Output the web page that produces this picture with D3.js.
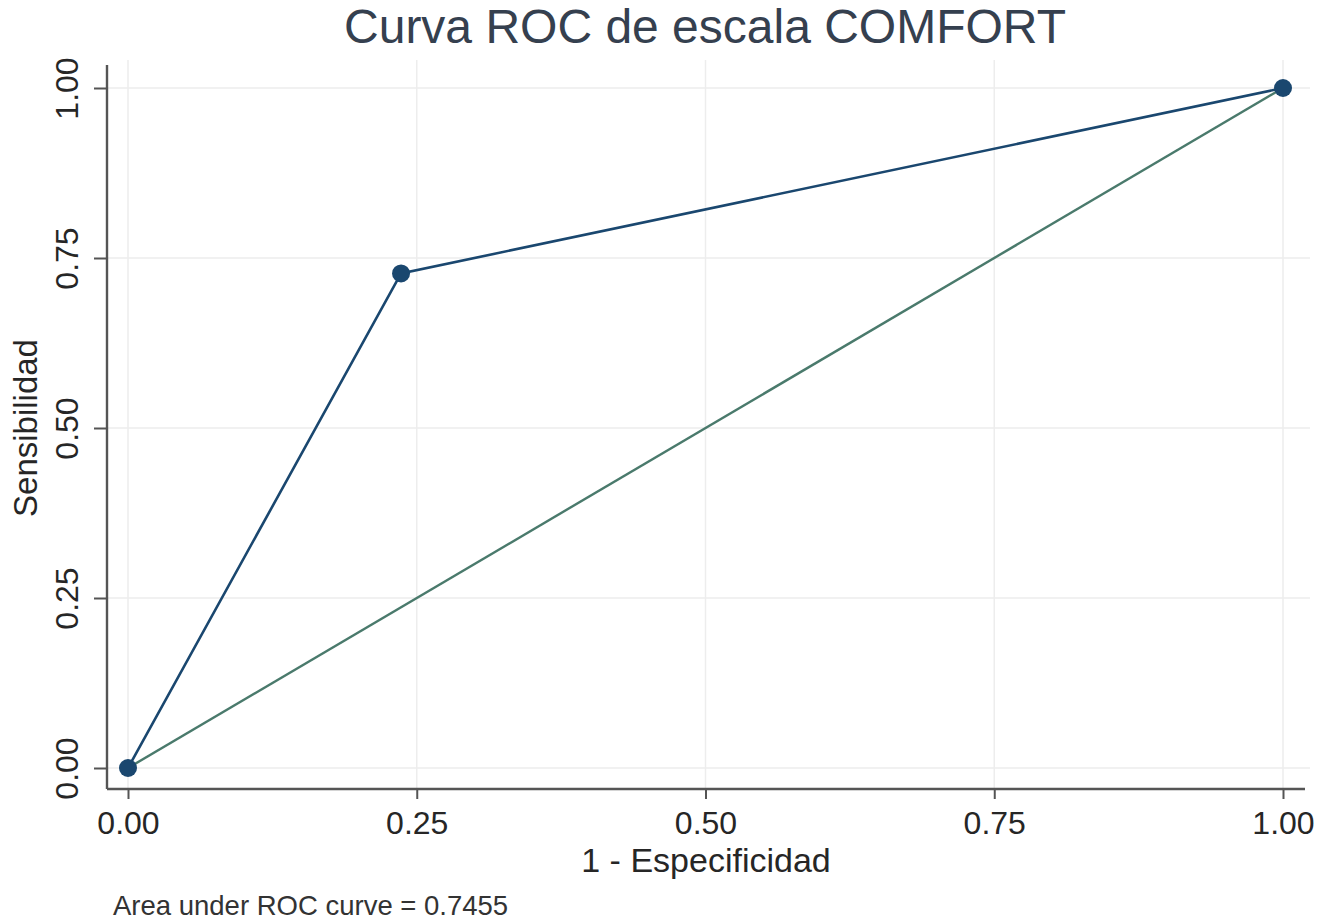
<!DOCTYPE html>
<html>
<head>
<meta charset="utf-8">
<script src="https://cdn.jsdelivr.net/npm/d3@7"></script>
<style>
  body { margin: 0; background: #fff; }
  text { font-family: "Liberation Sans", Arial, sans-serif; }
</style>
</head>
<body>
<div id="chart"></div>
<script>
// data
var fpr = [0, 0.2364, 1];          // 1 - Especificidad
var sens = [0, 0.7273, 1];         // Sensibilidad
var refLine = [0, 1];              // diagonal
var xTicks = [0, 0.25, 0.5, 0.75, 1];
var yTicks = [0, 0.25, 0.5, 0.75, 1];
var aucText = 'Area under ROC curve = 0.7455';

var width = 1332;
var height = 921;
var rocColor = '#1a476f';
var refColor = '#4a7a6c';
var axisColor = '#555';
var gridColor = '#ededed';

var svg = d3.select('#chart').append('svg')
  .attr('width', width)
  .attr('height', height)
  .style('background-color', '#fff');

var x = d3.scaleLinear().domain([0, 1]).range([128, 1283]);
var y = d3.scaleLinear().domain([0, 1]).range([768, 88]);

// grid
svg.append('g').selectAll('line.vgrid')
  .data(xTicks).enter().append('line')
  .attr('x1', function (d) { return x(d); })
  .attr('x2', function (d) { return x(d); })
  .attr('y1', 789).attr('y2', 60)
  .attr('stroke', gridColor).attr('stroke-width', 1.5);
svg.append('g').selectAll('line.hgrid')
  .data(yTicks).enter().append('line')
  .attr('y1', function (d) { return y(d); })
  .attr('y2', function (d) { return y(d); })
  .attr('x1', 107).attr('x2', 1310)
  .attr('stroke', gridColor).attr('stroke-width', 1.5);

// axes
var fmt = d3.format('.2f');
var xAxis = svg.append('g')
  .attr('transform', 'translate(0,789)')
  .call(d3.axisBottom(x).tickValues(xTicks).tickFormat(fmt).tickSize(10).tickSizeOuter(0).tickPadding(12));
var yAxis = svg.append('g')
  .attr('transform', 'translate(107,0)')
  .call(d3.axisLeft(y).tickValues(yTicks).tickFormat(fmt).tickSize(13).tickSizeOuter(0).tickPadding(16));

[xAxis, yAxis].forEach(function (a) {
  a.select('.domain').remove();
  a.selectAll('.tick line').attr('stroke', axisColor).attr('stroke-width', 2);
  a.selectAll('.tick text')
    .style('font-size', '32px')
    .attr('fill', '#262626');
});
xAxis.selectAll('.tick text').attr('dy', '0.71em');
yAxis.selectAll('.tick text')
  .attr('text-anchor', 'middle')
  .attr('x', 0).attr('dy', 0)
  .attr('transform', 'translate(-29,0) rotate(-90)');

svg.append('line')
  .attr('x1', 107).attr('x2', 1305).attr('y1', 789).attr('y2', 789)
  .attr('stroke', axisColor).attr('stroke-width', 2.4);
svg.append('line')
  .attr('x1', 107).attr('x2', 107).attr('y1', 65).attr('y2', 789)
  .attr('stroke', axisColor).attr('stroke-width', 2.4);

// reference diagonal
var line = d3.line()
  .x(function (d) { return x(d[0]); })
  .y(function (d) { return y(d[1]); });
svg.append('path')
  .attr('d', line(refLine.map(function (d) { return [d, d]; })))
  .attr('fill', 'none')
  .attr('stroke', refColor)
  .attr('stroke-width', 2.4);

// roc curve
var rocPts = fpr.map(function (d, i) { return [d, sens[i]]; });
svg.append('path')
  .attr('d', line(rocPts))
  .attr('fill', 'none')
  .attr('stroke', rocColor)
  .attr('stroke-width', 2.6);
svg.append('g').selectAll('circle')
  .data(rocPts).enter().append('circle')
  .attr('cx', function (d) { return x(d[0]); })
  .attr('cy', function (d) { return y(d[1]); })
  .attr('r', 9)
  .attr('fill', rocColor);

// titles
svg.append('text')
  .attr('x', 705).attr('y', 43)
  .attr('text-anchor', 'middle')
  .style('font-size', '48px')
  .attr('fill', '#35404f')
  .text('Curva ROC de escala COMFORT');

svg.append('text')
  .attr('x', 706).attr('y', 872)
  .attr('text-anchor', 'middle')
  .style('font-size', '34px')
  .attr('fill', '#262626')
  .text('1 - Especificidad');

svg.append('text')
  .attr('transform', 'translate(37,' + y(0.5) + ') rotate(-90)')
  .attr('text-anchor', 'middle')
  .style('font-size', '33px')
  .attr('fill', '#262626')
  .text('Sensibilidad');

svg.append('text')
  .attr('x', 113).attr('y', 915)
  .style('font-size', '27.5px')
  .attr('fill', '#333')
  .text(aucText);
</script>
</body>
</html>
